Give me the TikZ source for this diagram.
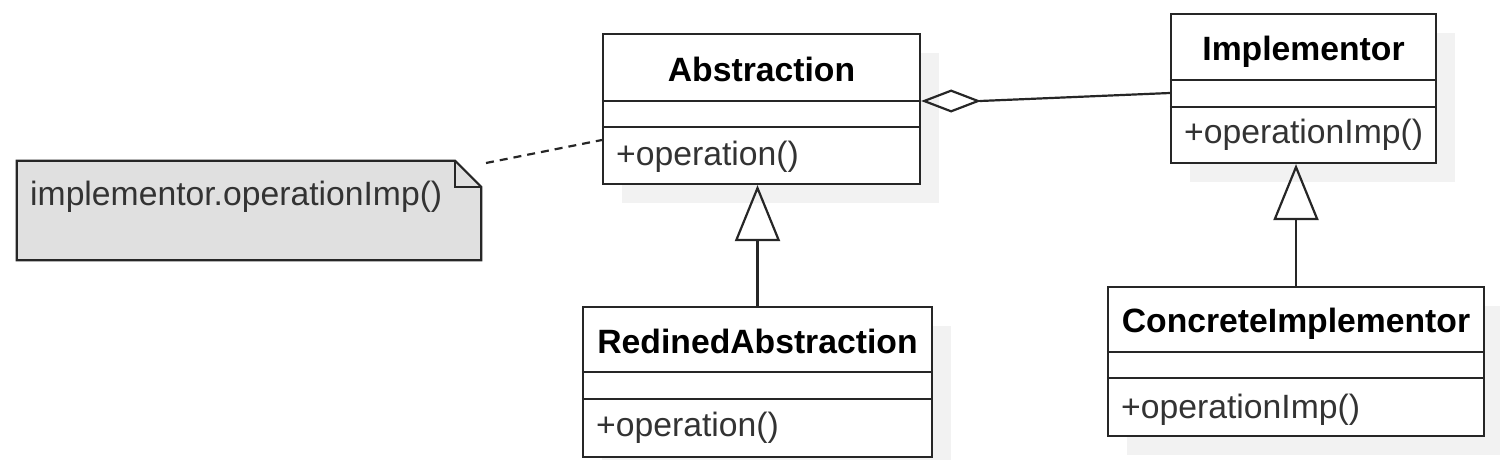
\documentclass[tikz,border=0pt]{standalone}
\usepackage{fontspec}
\setmainfont{Liberation Sans}
\usetikzlibrary{arrows.meta,shadows,calc}
\definecolor{linec}{HTML}{262626}
\definecolor{shadowc}{HTML}{F2F2F2}
\definecolor{notefill}{HTML}{E0E0E0}
\definecolor{optext}{HTML}{333333}
\tikzset{
  classbox/.style={draw=linec, fill=white, line width=2.2pt, inner sep=0pt,
    drop shadow={shadow xshift=19pt, shadow yshift=-19pt, fill=shadowc, opacity=1}},
  divider/.style={draw=linec, line width=2.2pt},
  titletext/.style={font=\fontsize{33.7}{40}\selectfont\bfseries, text=black, inner sep=0pt, anchor=base},
  optxt/.style={font=\fontsize{33.7}{40}\selectfont, text=optext, inner sep=0pt, anchor=base west},
  conn/.style={draw=linec, line width=2.2pt},
  gen/.style={conn, -{Triangle[open, length=56pt 0 1, width=45pt 0 1]}},
  agg/.style={conn, -{Diamond[open, length=60pt 0 1, width=23pt 0 1]}},
  notelink/.style={conn, dash pattern=on 8pt off 6pt},
}
\begin{document}
\begin{tikzpicture}[x=1pt, y=-1pt]
\useasboundingbox (0,0) rectangle (1500,460);

% Abstraction
\node[classbox, minimum width=317pt, minimum height=150pt] (abs) at (761.5,109) {};
\draw[divider] (abs.west |- 0,101) -- (abs.east |- 0,101);
\draw[divider] (abs.west |- 0,127) -- (abs.east |- 0,127);
\node[titletext] (abst) at (761.5,81.5) {Abstraction};
\node[optxt] (abso) at (616,165) {+operation()};

% Implementor
\node[classbox, minimum width=265pt, minimum height=149pt] (impl) at (1303.5,88.5) {};
\draw[divider] (impl.west |- 0,80) -- (impl.east |- 0,80);
\draw[divider] (impl.west |- 0,107) -- (impl.east |- 0,107);
\node[titletext] (implt) at (1303.5,60) {Implementor};
\node[optxt] (implo) at (1184,143) {+operationImp()};

% RedinedAbstraction
\node[classbox, minimum width=349pt, minimum height=150pt] (rabs) at (757.5,382) {};
\draw[divider] (rabs.west |- 0,372) -- (rabs.east |- 0,372);
\draw[divider] (rabs.west |- 0,399) -- (rabs.east |- 0,399);
\node[titletext] (rabst) at (757.5,353) {RedinedAbstraction};
\node[optxt] (rabso) at (596,436.5) {+operation()};

% ConcreteImplementor
\node[classbox, minimum width=376pt, minimum height=149pt] (cimpl) at (1296,361.5) {};
\draw[divider] (cimpl.west |- 0,352) -- (cimpl.east |- 0,352);
\draw[divider] (cimpl.west |- 0,378) -- (cimpl.east |- 0,378);
\node[titletext] (cimplt) at (1296,332) {ConcreteImplementor};
\node[optxt] (cimplo) at (1121,418) {+operationImp()};

% Note
\node[minimum width=464pt, minimum height=99pt, inner sep=0pt] (note) at (249,210.5) {};
\draw[draw=linec, fill=notefill, line width=2.2pt]
  (note.north west) -- ($(note.north east)+(-26pt,0)$) -- ($(note.north east)+(0,-26pt)$)
  -- (note.south east) -- (note.south west) -- cycle;
\draw[draw=linec, line width=2.2pt]
  ($(note.north east)+(-26pt,0)$) -- ($(note.north east)+(-26pt,-26pt)$) -- ($(note.north east)+(0,-26pt)$);
\node[font=\fontsize{33.7}{40}\selectfont, text=optext, inner sep=0pt, anchor=base west] (notet) at (30,205) {implementor.operationImp()};
\coordinate (nend) at (486,163);

% Connectors
\draw[notelink] (nend) -- ([yshift=-31pt]abs.west);
\coordinate (dtip) at (980,101);
\draw[conn] ([yshift=-4.5pt]impl.west) -- (dtip);
\draw[agg] (dtip) -- ([yshift=8pt]abs.east);
\draw[gen] (rabs.north) -- (rabs.north |- abs.south);
\draw[gen] (cimpl.north) -- (cimpl.north |- impl.south);
\end{tikzpicture}
\end{document}
